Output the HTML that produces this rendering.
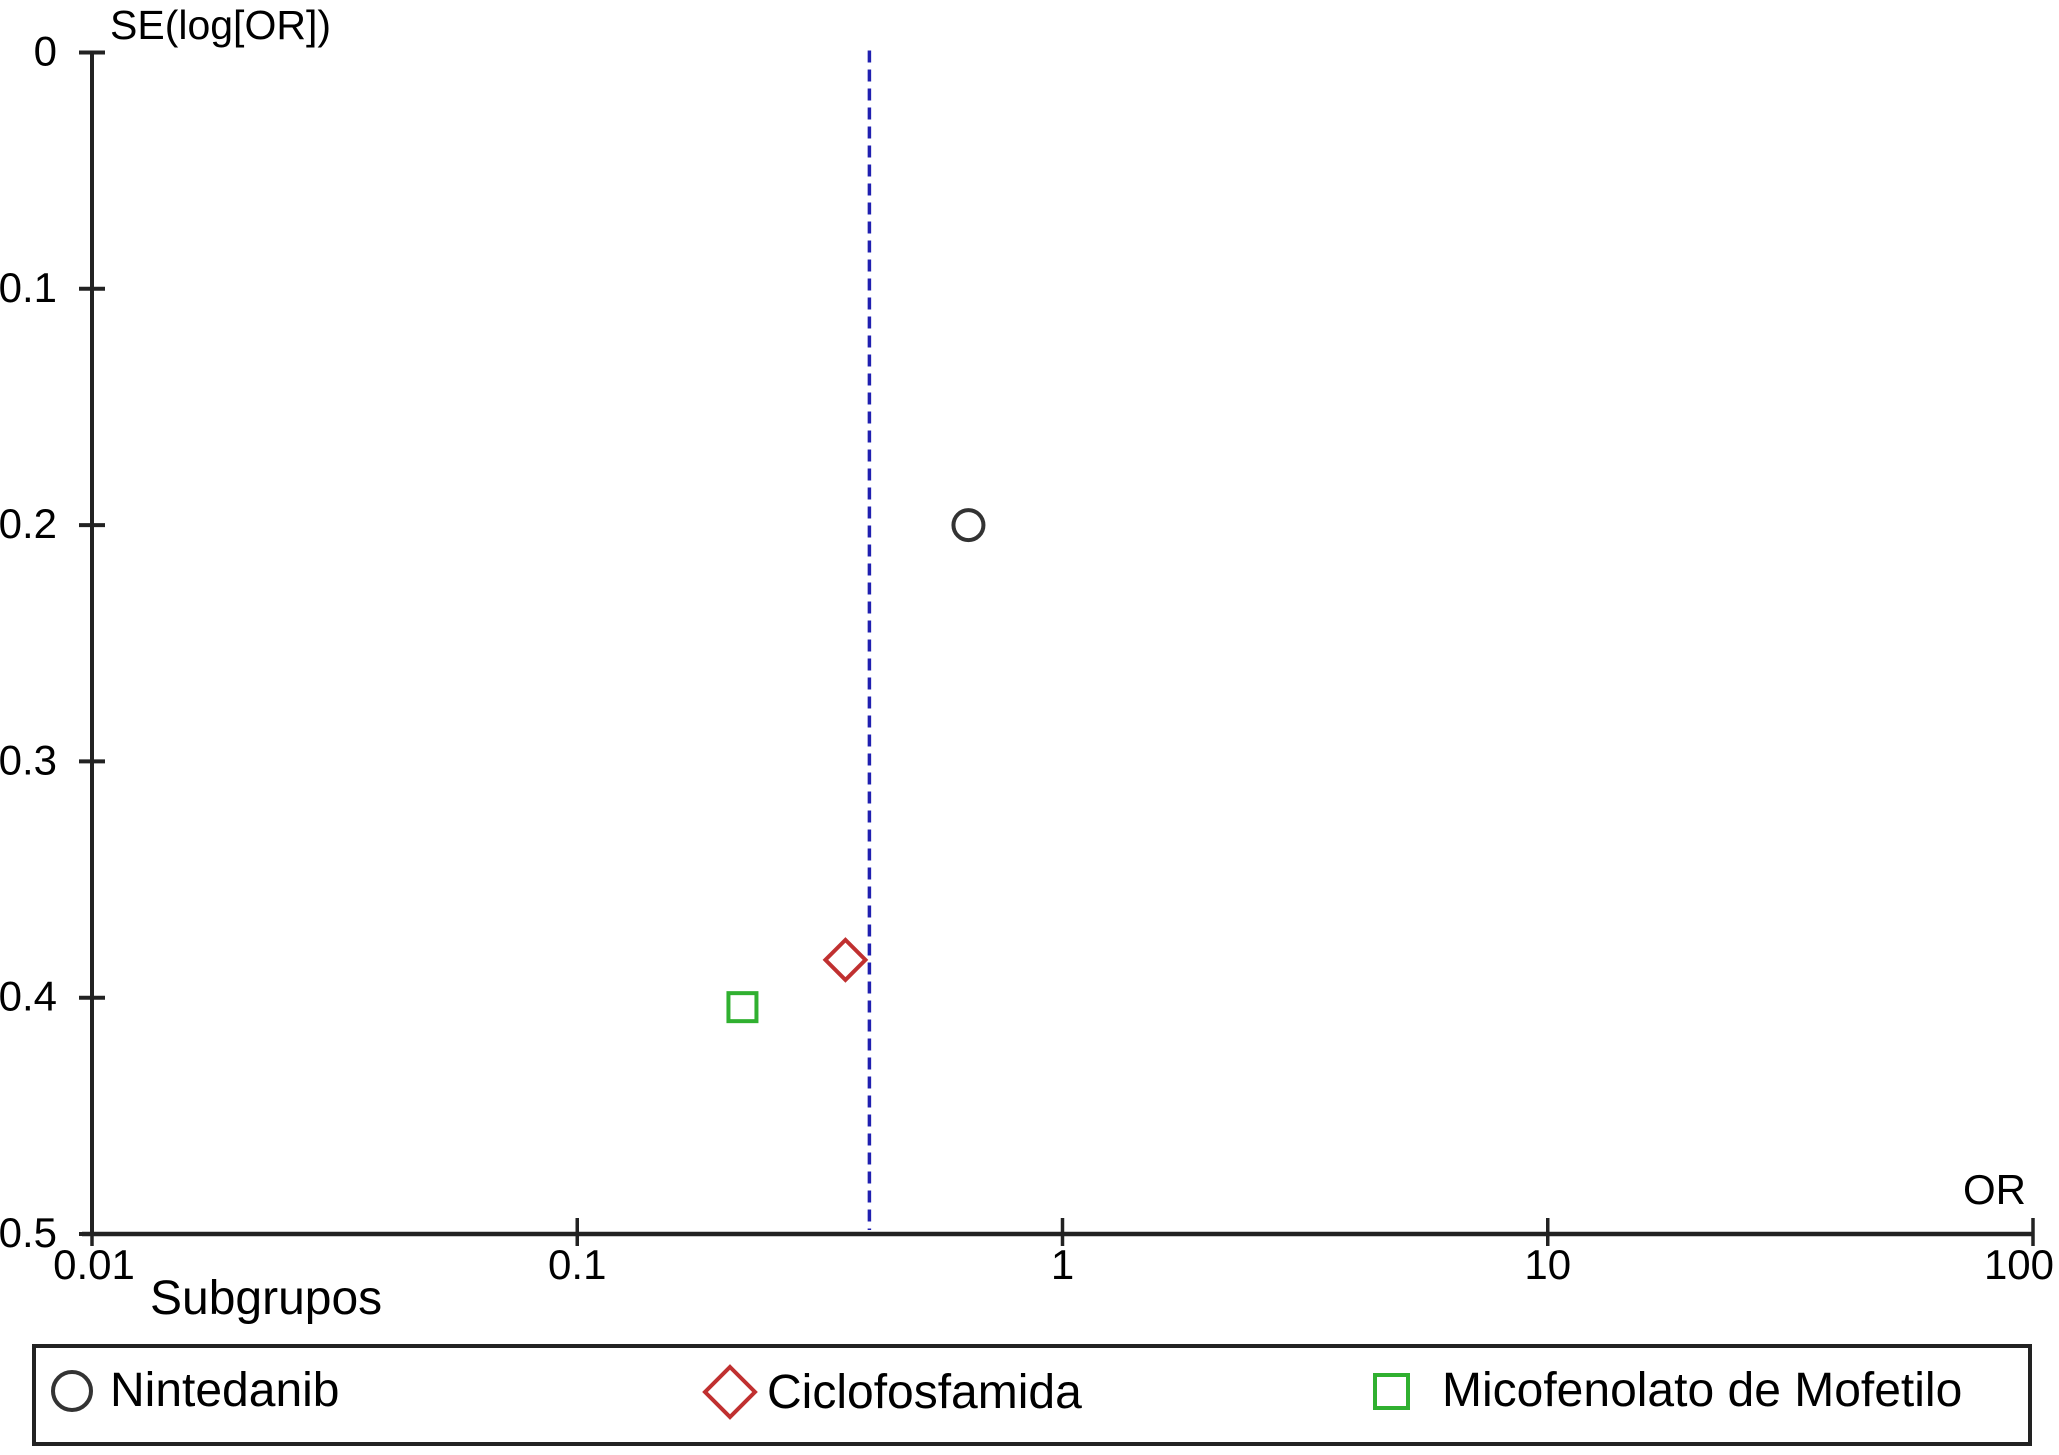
<!DOCTYPE html>
<html><head><meta charset="utf-8"><style>
html,body{margin:0;padding:0;background:#fff;}
svg{display:block;font-family:"Liberation Sans Narrow","Liberation Sans",sans-serif;}
</style></head><body>
<svg id="chart" width="2059" height="1455" viewBox="0 0 2059 1455">
<g id="axes"></g><g id="marks"></g>
<text x="110" y="39" font-size="41">SE(log[OR])</text>
<text x="2026" y="1204" font-size="42" text-anchor="end">OR</text>
<text x="150" y="1314" font-size="48">Subgrupos</text>
<rect x="34" y="1346" width="1996" height="98" fill="none" stroke="#222" stroke-width="4"/>
<g>
<circle cx="72" cy="1391" r="19" fill="none" stroke="#333" stroke-width="4"/>
<text x="110" y="1406" font-size="48">Nintedanib</text></g>
<g>
<polygon points="730,1367 755,1392 730,1417 705,1392" fill="none" stroke="#c03030" stroke-width="4"/>
<text x="767" y="1408" font-size="48">Ciclofosfamida</text></g>
<g>
<rect x="1375" y="1375" width="33" height="33" fill="none" stroke="#30b030" stroke-width="4"/>
<text x="1442" y="1406" font-size="48">Micofenolato de Mofetilo</text></g>
</svg>
<script>
const xTicks=[0.01,0.1,1,10,100];
const xTickLabels=["0.01","0.1","1","10","100"];
const yTicks=[0,0.1,0.2,0.3,0.4,0.5];
const yTickLabels=["0","0.1","0.2","0.3","0.4","0.5"];
const studyNames=["Nintedanib","Ciclofosfamida","Micofenolato de Mofetilo"];
const studyOR=[0.64,0.357,0.219];
const studySE=[0.2,0.384,0.404];
const pooledOR=0.40;
const NS="http://www.w3.org/2000/svg";
const X0=92,X1=2033,Y0=52.5,Y1=1234;
function xs(v){return X0+(Math.log10(v)+2)/4*(X1-X0);}
function ys(v){return Y0+v/0.5*(Y1-Y0);}
function mk(tag,attrs,parent){const e=document.createElementNS(NS,tag);for(const k in attrs)e.setAttribute(k,attrs[k]);parent.appendChild(e);return e;}
const ax=document.getElementById('axes'),mg=document.getElementById('marks');
let l=mk('line',{x1:X0,y1:Y0,x2:X0,y2:Y1,stroke:'#222','stroke-width':4},ax);


l=mk('line',{x1:X0-10,y1:Y1,x2:X1,y2:Y1,stroke:'#222','stroke-width':4.5},ax);


yTicks.forEach((v,i)=>{
 const t=mk('line',{x1:X0-13,x2:X0+13,y1:ys(v),y2:ys(v),stroke:'#222','stroke-width':4},ax);
 
 
 const tx=mk('text',{x:57,y:ys(v)+13,'font-size':42,'text-anchor':'end'},ax);
 tx.textContent=yTickLabels[i];
 
 
});
xTicks.forEach((v,i)=>{
 const t=mk('line',{x1:xs(v),x2:xs(v),y1:Y1-16,y2:Y1+12,stroke:'#222','stroke-width':3.5},ax);
 
 
 const tx=mk('text',{x:xs(v)-(i==xTicks.length-1?14:(i==0?-2:0)),y:Y1+45,'font-size':42,'text-anchor':'middle'},ax);
 tx.textContent=xTickLabels[i];
 
 
});
l=mk('line',{x1:xs(pooledOR),x2:xs(pooledOR),y1:Y0-2,y2:Y1-4,stroke:'#2020b0','stroke-width':3.5,'stroke-dasharray':'12,7'},mg);


studyNames.forEach((n,i)=>{
 const x=xs(studyOR[i]),y=ys(studySE[i]);let e;
 if(i==0)e=mk('circle',{cx:x,cy:y,r:15,fill:'none',stroke:'#333','stroke-width':4},mg);
 else if(i==1)e=mk('polygon',{points:`${x},${y-20} ${x+20},${y} ${x},${y+20} ${x-20},${y}`,fill:'none',stroke:'#c03030','stroke-width':4},mg);
 else e=mk('rect',{x:x-14,y:y-14,width:28,height:28,fill:'none',stroke:'#30b030','stroke-width':4},mg);
 
 
});
</script>
</body></html>
